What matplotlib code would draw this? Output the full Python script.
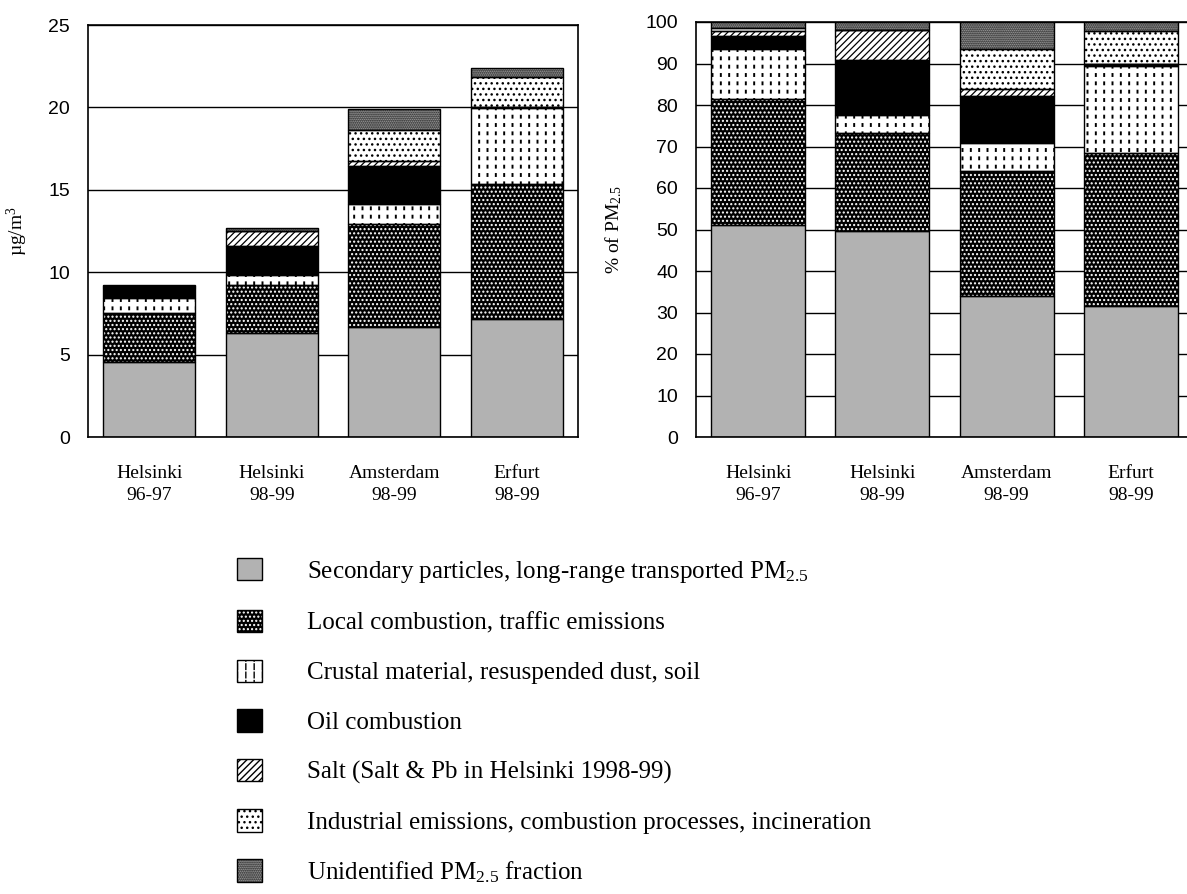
import matplotlib
matplotlib.use('Agg')
import matplotlib.pyplot as plt
from matplotlib.legend_handler import HandlerTuple

plt.rcParams['font.family'] = 'Liberation Serif'
plt.rcParams['mathtext.fontset'] = 'custom'
plt.rcParams['mathtext.rm'] = 'Liberation Serif'
plt.rcParams['mathtext.it'] = 'Liberation Serif:italic'

sites = ['Helsinki\n96-97', 'Helsinki\n98-99', 'Amsterdam\n98-99', 'Erfurt\n98-99']
sources = [
    'Secondary particles, long-range transported PM$_{2.5}$',
    'Local combustion, traffic emissions',
    'Crustal material, resuspended dust, soil',
    'Oil combustion',
    'Salt (Salt & Pb in Helsinki 1998-99)',
    'Industrial emissions, combustion processes, incineration',
    'Unidentified PM$_{2.5}$ fraction',
]

# source contributions, ug/m3
secondary_ug = [4.57, 6.30, 6.66, 7.16]
local_ug = [2.94, 2.93, 6.27, 8.20]
crustal_ug = [0.95, 0.61, 1.22, 4.60]
oil_ug = [0.57, 1.76, 2.30, 0.06]
salt_ug = [0.08, 0.87, 0.27, 0.0]
industrial_ug = [0.05, 0.0, 1.88, 1.83]
unidentified_ug = [0.07, 0.24, 1.31, 0.57]

# source contributions, % of PM2.5
secondary_pct = [51.0, 49.7, 34.0, 31.6]
local_pct = [30.4, 23.5, 30.2, 36.8]
crustal_pct = [12.0, 4.4, 6.6, 21.0]
oil_pct = [3.3, 13.2, 11.4, 0.4]
salt_pct = [1.2, 7.3, 1.6, 0.0]
industrial_pct = [0.7, 0.0, 9.6, 8.0]
unidentified_pct = [1.4, 1.9, 6.6, 2.2]

# fill / hatch per source (black & white print style)
styles = [
    dict(face='#b2b2b2'),
    dict(face='black', hatch='....', hc='white'),
    dict(face='white', hatch='||', hc='black', hlw=1.4, breaks=True),
    dict(face='black'),
    dict(face='white', hatch='/////', hc='black', hlw=0.9),
    dict(face='white', hatch='...', hc='black'),
    dict(face='#b8b8b8', hatch='........', hc='black'),
]


def stacked(ax, series, width):
    x = list(range(len(sites)))
    bottom = [0.0] * len(sites)
    handles = []
    for vals, st in zip(series, styles):
        layers = []
        with plt.rc_context({'hatch.linewidth': st.get('hlw', 1.0)}):
            b = ax.bar(x, vals, width, bottom=bottom, color=st['face'],
                       edgecolor=st.get('hc', st['face']), hatch=st.get('hatch'),
                       linewidth=0, zorder=2)
        layers.append(b[0])
        if st.get('breaks'):
            # white horizontal hatch chops the vertical lines into dashes
            with plt.rc_context({'hatch.linewidth': 3.2}):
                w = ax.bar(x, vals, width, bottom=bottom, fill=False,
                           edgecolor='white', hatch='--', linewidth=0, zorder=3)
            layers.append(w[0])
        o = ax.bar(x, vals, width, bottom=bottom, fill=False,
                   edgecolor='black', linewidth=1.0, zorder=4)
        layers.append(o[0])
        handles.append(tuple(layers))
        bottom = [b0 + v for b0, v in zip(bottom, vals)]
    return handles


W, H = 1187, 894
fig = plt.figure(figsize=(W / 100, H / 100), dpi=100)
ax1 = fig.add_axes([88 / W, 1 - 437 / H, 490 / W, 412 / H])
ax2 = fig.add_axes([696 / W, 1 - 437 / H, 497 / W, 415 / H])

handles = stacked(ax1, [secondary_ug, local_ug, crustal_ug, oil_ug, salt_ug,
                        industrial_ug, unidentified_ug], 0.75)
stacked(ax2, [secondary_pct, local_pct, crustal_pct, oil_pct, salt_pct,
              industrial_pct, unidentified_pct], 0.757)

ax1.set_ylim(0, 25)
ax1.set_yticks(range(0, 26, 5))
ax2.set_ylim(0, 100)
ax2.set_yticks(range(0, 101, 10))

for ax in (ax1, ax2):
    ax.set_xlim(-0.5, 3.5)
    ax.set_xticks(range(len(sites)))
    ax.set_xticklabels(sites, fontsize=14, linespacing=1.4)
    ax.tick_params(length=0)
    ax.tick_params(axis='x', pad=20)
    ax.tick_params(axis='y', pad=13, labelsize=14)
    for lab in ax.get_yticklabels():
        lab.set_fontfamily('Liberation Sans')
    ax.yaxis.grid(True, color='black', linewidth=1.0)
    ax.set_axisbelow(True)
    for sp in ax.spines.values():
        sp.set_color('black')
        sp.set_linewidth(1.2)

ax1.set_ylabel('µg/m$^3$', fontsize=14)
ax1.yaxis.set_label_coords(-0.118, 0.5)
ax2.set_ylabel('% of PM$_{2.5}$', fontsize=14)
ax2.yaxis.set_label_coords(-0.145, 0.5)

fig.legend(handles, sources, loc='upper left',
           bbox_to_anchor=(237 / W, 1 - 558 / H), frameon=False, fontsize=18,
           handlelength=1.0, handleheight=1.0, handletextpad=1.8,
           labelspacing=1.0, borderpad=0, borderaxespad=0,
           handler_map={tuple: HandlerTuple(ndivide=1)})

fig.savefig('out.png', dpi=100)
